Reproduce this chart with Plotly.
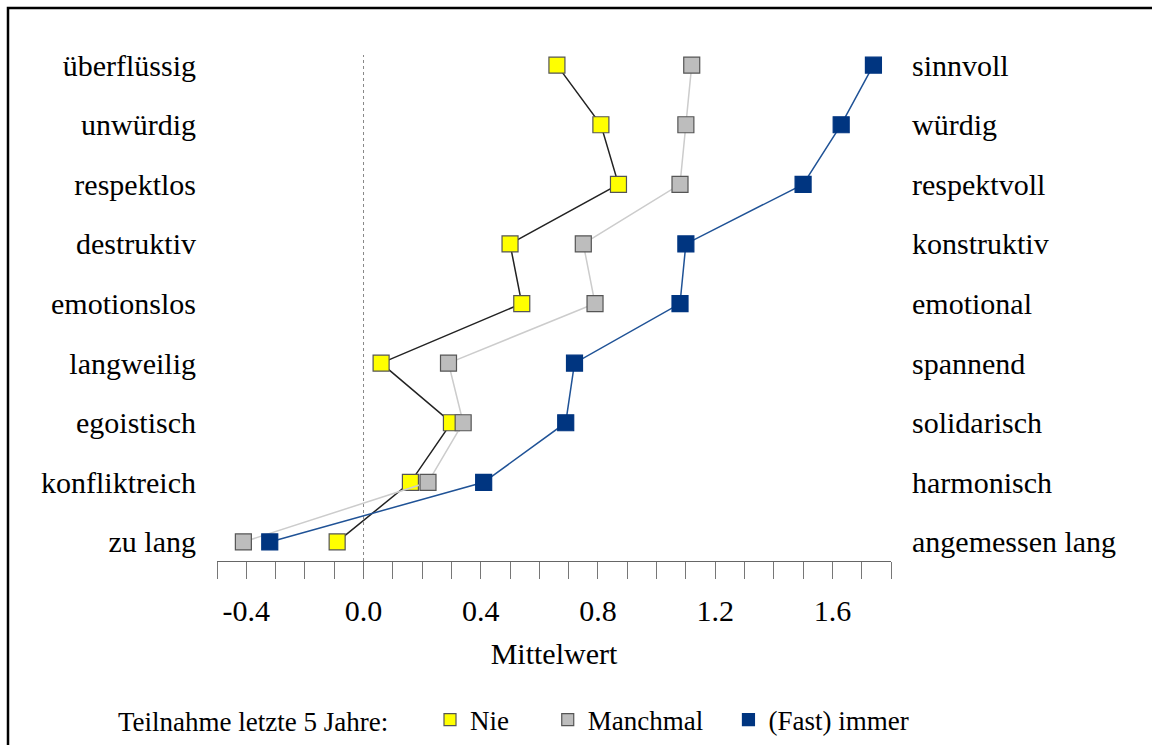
import plotly.graph_objects as go

left_labels = ["überflüssig", "unwürdig", "respektlos", "destruktiv", "emotionslos",
               "langweilig", "egoistisch", "konfliktreich", "zu lang"]
right_labels = ["sinnvoll", "würdig", "respektvoll", "konstruktiv", "emotional",
                "spannend", "solidarisch", "harmonisch", "angemessen lang"]

nie = [0.66, 0.81, 0.87, 0.50, 0.54, 0.06, 0.30, 0.16, -0.09]
manchmal = [1.12, 1.10, 1.08, 0.75, 0.79, 0.29, 0.34, 0.22, -0.41]
immer = [1.74, 1.63, 1.50, 1.10, 1.08, 0.72, 0.69, 0.41, -0.32]

series = [
    ("Nie", nie, "#222222", "#ffff00", "#555555"),
    ("Manchmal", manchmal, "#cccccc", "#bdbdbd", "#555555"),
    ("(Fast) immer", immer, "#1f5296", "#003580", "#003580"),
]
legend_names = ["Nie\u00a0\u00a0\u00a0\u00a0\u00a0", "Manchmal\u00a0\u00a0\u00a0", "(Fast) immer"]

n = len(left_labels)
ypos = list(range(n - 1, -1, -1))

FONT = "Liberation Serif"
fig = go.Figure()

for name, vals, lc, fc, oc in series:
    fig.add_trace(go.Scatter(
        x=vals, y=ypos, mode="lines+markers", name=name, showlegend=False,
        line=dict(color=lc, width=1.5),
        marker=dict(symbol="square", size=16, color=fc, line=dict(color=oc, width=1.2)),
    ))
for (name, vals, lc, fc, oc), lname in zip(series, legend_names):
    fig.add_trace(go.Scatter(
        x=[None], y=[None], mode="markers", name=lname, showlegend=True,
        marker=dict(symbol="square", size=12, color=fc, line=dict(color=oc, width=1.2)),
    ))

fig.add_trace(go.Scatter(x=[None], y=[None], yaxis="y2", showlegend=False))

xticks = [round(-0.5 + 0.1 * i, 1) for i in range(24)]
xlabels = [f"{v:.1f}" if abs(round(v / 0.4) * 0.4 - v) < 1e-9 else "" for v in xticks]

PW = 1152 - 217 - 261
PH = 745 - 55 - 184

fig.update_layout(
    width=1152, height=745,
    margin=dict(l=217, r=261, t=55, b=184, autoexpand=False),
    paper_bgcolor="white", plot_bgcolor="white",
    font=dict(family=FONT, color="black", size=30),
    xaxis=dict(
        range=[-0.5, 1.8], showgrid=False, zeroline=False,
        showline=True, linecolor="#666666", linewidth=1,
        ticks="outside", ticklen=17, tickcolor="#777777", tickwidth=1,
        tickvals=xticks, ticktext=xlabels, ticklabelstandoff=6,
        tickfont=dict(size=30, family=FONT),
        title=dict(text="Mittelwert", font=dict(size=30, family=FONT), standoff=16),
    ),
    yaxis=dict(
        range=[-0.32, 8.17], showgrid=False, zeroline=False, showline=False,
        tickvals=ypos, ticktext=left_labels, ticks="", ticklabelstandoff=20,
        tickfont=dict(size=30, family=FONT),
    ),
    yaxis2=dict(
        range=[-0.32, 8.17], overlaying="y", side="right",
        showgrid=False, zeroline=False, showline=False,
        tickvals=ypos, ticktext=right_labels, ticks="", ticklabelstandoff=20,
        tickfont=dict(size=30, family=FONT),
    ),
    legend=dict(
        orientation="h", x=(116 - 217) / PW, xanchor="left",
        y=-(720 - 561) / PH, yanchor="middle",
        title=dict(text="Teilnahme letzte 5 Jahre:\u00a0\u00a0\u00a0\u00a0\u00a0",
                   font=dict(size=27, family=FONT)),
        font=dict(size=27, family=FONT), itemwidth=30, tracegroupgap=0,
    ),
    shapes=[
        dict(type="line", xref="x", yref="paper", x0=0, x1=0, y0=0, y1=1,
             line=dict(color="#888888", width=1, dash="dot"), layer="below"),
        dict(type="rect", xref="paper", yref="paper", x0=(8 - 217) / PW, x1=2.0,
             y0=-2.0, y1=(561 - 8) / PH, line=dict(color="black", width=2.5)),
    ],
)

fig.write_html("out.html", config={"displayModeBar": False},
               post_script="document.body.style.margin='0';")
